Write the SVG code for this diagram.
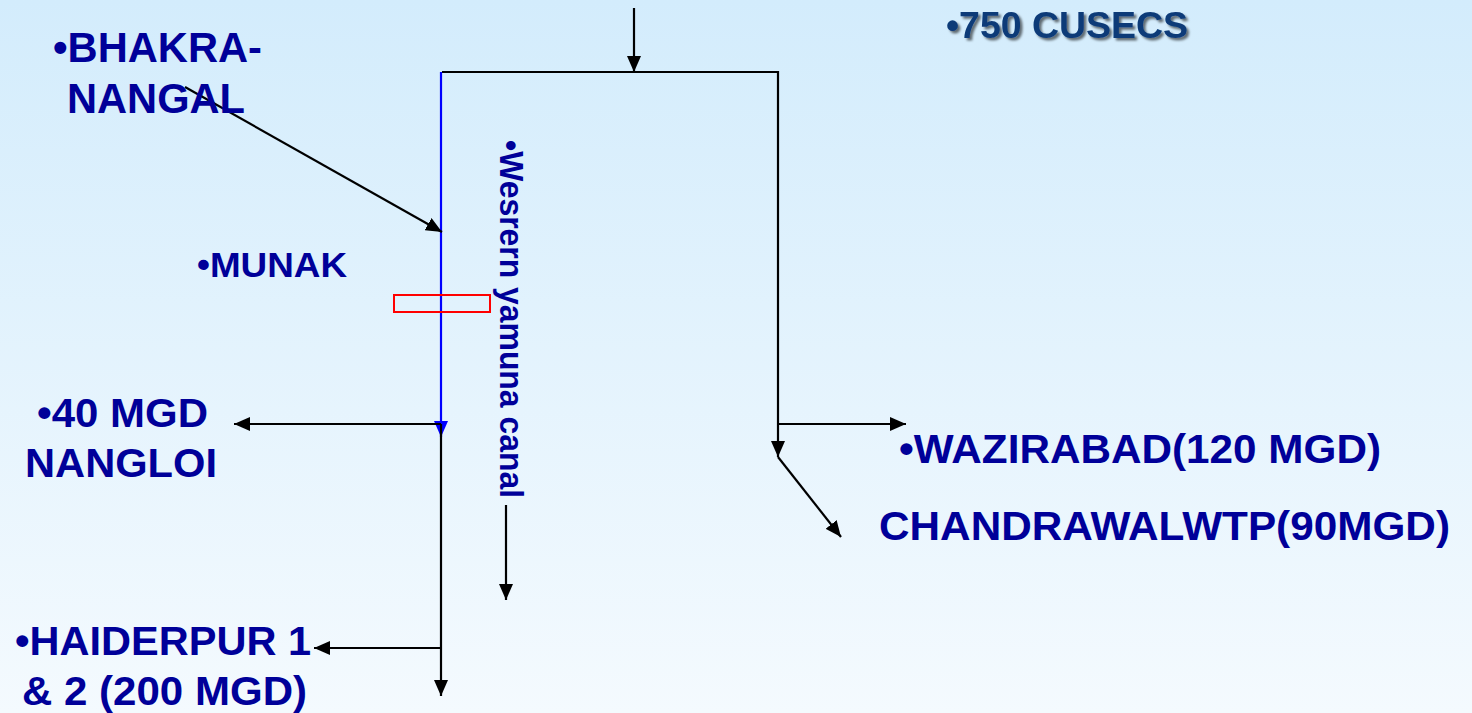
<svg xmlns="http://www.w3.org/2000/svg" width="1472" height="713" viewBox="0 0 1472 713">
<defs>
<linearGradient id="bg" x1="0" y1="0" x2="0" y2="1">
<stop offset="0" stop-color="#d3ecfc"/>
<stop offset="1" stop-color="#f4fafe"/>
</linearGradient>
<marker id="ah" markerUnits="userSpaceOnUse" markerWidth="16" markerHeight="14" refX="16" refY="7" orient="auto">
<path d="M0,0 L16,7 L0,14 z" fill="#000"/>
</marker>
<marker id="ahb" markerUnits="userSpaceOnUse" markerWidth="16" markerHeight="14" refX="16" refY="7" orient="auto">
<path d="M0,0 L16,7 L0,14 z" fill="#0000ff"/>
</marker>
<filter id="sh" x="-10%" y="-30%" width="130%" height="180%">
<feDropShadow dx="2.5" dy="2.5" stdDeviation="1" flood-color="#000" flood-opacity="0.55"/>
</filter>
</defs>
<style>
.t{font-family:"Liberation Sans",Arial,sans-serif;font-weight:bold;fill:#000099;}
.c{stroke:#000;stroke-width:2.2;fill:none;}
.cb{stroke:#0000ff;stroke-width:2.2;fill:none;}
</style>
<rect width="1472" height="713" fill="url(#bg)"/>

<g id="connectors">
<line class="c" x1="634" y1="8" x2="634" y2="72" marker-end="url(#ah)"/>
<polyline class="c" points="442,72 778,72 778,457" marker-end="url(#ah)"/>
<line class="c" x1="778" y1="424" x2="906" y2="424" marker-end="url(#ah)"/>
<line class="c" x1="778" y1="457" x2="841" y2="537" marker-end="url(#ah)"/>
<line class="cb" x1="441" y1="72" x2="441" y2="437" marker-end="url(#ahb)"/>
<line class="c" x1="441" y1="424" x2="441" y2="696" marker-end="url(#ah)"/>
<line class="c" x1="441" y1="424" x2="234" y2="424" marker-end="url(#ah)"/>
<line class="c" x1="441" y1="648" x2="314" y2="648" marker-end="url(#ah)"/>
<line class="c" x1="185" y1="87" x2="442" y2="232" marker-end="url(#ah)"/>
<line class="c" x1="506" y1="505" x2="506" y2="600" marker-end="url(#ah)"/>
</g>

<g id="munak-gate">
<rect x="394" y="295" width="96" height="17" fill="none" stroke="#ff0000" stroke-width="2"/>
</g>

<g id="bhakra">
<text class="t" x="53" y="62" font-size="42" textLength="209" lengthAdjust="spacingAndGlyphs">•BHAKRA-</text>
<text class="t" x="67" y="113" font-size="42" textLength="178" lengthAdjust="spacingAndGlyphs">NANGAL</text>
</g>
<g id="munak">
<text class="t" x="197" y="277" font-size="35" textLength="150" lengthAdjust="spacingAndGlyphs">•MUNAK</text>
</g>
<g id="nangloi">
<text class="t" x="37" y="427" font-size="41" textLength="171" lengthAdjust="spacingAndGlyphs">•40 MGD</text>
<text class="t" x="25" y="477" font-size="41" textLength="192" lengthAdjust="spacingAndGlyphs">NANGLOI</text>
</g>
<g id="haiderpur">
<text class="t" x="15" y="655" font-size="41" textLength="296" lengthAdjust="spacingAndGlyphs">•HAIDERPUR 1</text>
<text class="t" x="22" y="705" font-size="41" textLength="285" lengthAdjust="spacingAndGlyphs">&amp; 2 (200 MGD)</text>
</g>
<g id="cusecs">
<text class="t" x="946" y="38" font-size="36" style="fill:#0b3a78" filter="url(#sh)" textLength="242" lengthAdjust="spacingAndGlyphs">•750 CUSECS</text>
</g>
<g id="wazirabad">
<text class="t" x="899" y="463" font-size="41" textLength="482" lengthAdjust="spacingAndGlyphs">•WAZIRABAD(120 MGD)</text>
</g>
<g id="chandrawal">
<text class="t" x="879" y="540" font-size="41" textLength="571" lengthAdjust="spacingAndGlyphs">CHANDRAWALWTP(90MGD)</text>
</g>
<g id="wyc">
<text class="t" font-size="33" transform="translate(500,140) rotate(90)" textLength="358" lengthAdjust="spacingAndGlyphs">•Wesrern yamuna canal</text>
</g>
</svg>
